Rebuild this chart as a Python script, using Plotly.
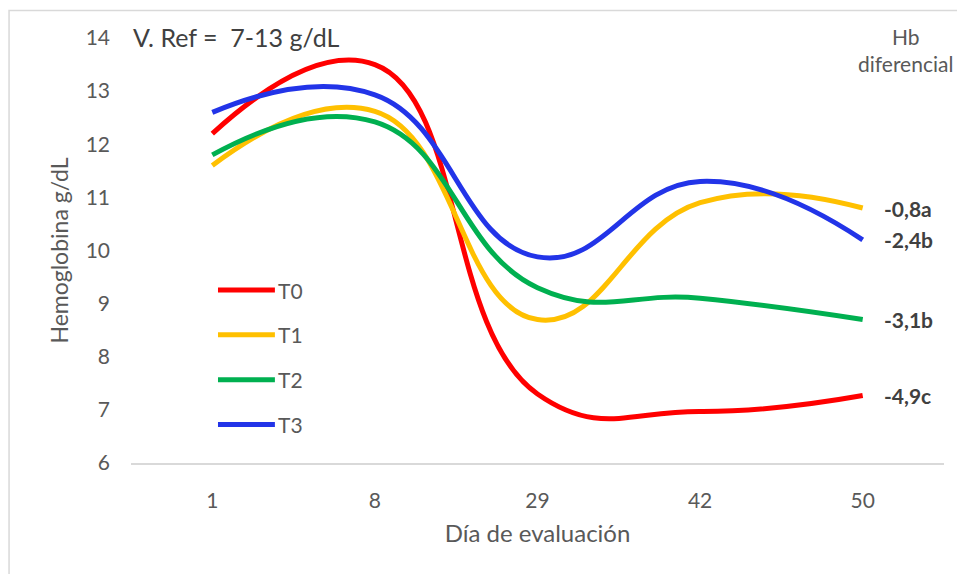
import plotly.graph_objects as go

days = ["1", "8", "29", "42", "50"]
series_names = ["T0", "T1", "T2", "T3"]
t0 = [12.2, 13.5, 7.3, 6.97, 7.27]
t1 = [11.6, 12.62, 8.7, 10.9, 10.8]
t2 = [11.8, 12.42, 9.3, 9.1, 8.7]
t3 = [12.6, 12.93, 9.88, 11.3, 10.2]
values = [t0, t1, t2, t3]
colors = ["#FF0000", "#FFC000", "#00B050", "#2234E8"]
diff_labels = ["-4,9c", "-0,8a", "-3,1b", "-2,4b"]

FONT = "Lato, 'Open Sans', sans-serif"
GRAY = "#595959"
DARK = "#404040"

fig = go.Figure()
for name, vals, col in zip(series_names, values, colors):
    fig.add_trace(go.Scatter(
        x=days, y=vals, name=name, mode="lines",
        line=dict(color=col, width=5, shape="spline", smoothing=1.3),
        showlegend=False, hoverinfo="x+y+name",
    ))

# end-of-line labels
last_idx = len(days) - 1
for vals, lab in zip(values, diff_labels):
    fig.add_annotation(x=last_idx, y=vals[-1], text="<b>" + lab + "</b>",
                       showarrow=False, xanchor="left", xshift=19,
                       font=dict(size=21, color=DARK, family=FONT))

# manual legend (long line samples like the original)
leg_x0, leg_x1 = 0.107, 0.177
leg_top, leg_step = 0.407, 0.1055
for i, (name, col) in enumerate(zip(series_names, colors)):
    yy = leg_top - i * leg_step
    fig.add_shape(type="line", xref="paper", yref="paper",
                  x0=leg_x0, x1=leg_x1, y0=yy, y1=yy,
                  line=dict(color=col, width=5))
    fig.add_annotation(xref="paper", yref="paper", x=leg_x1, y=yy,
                       xanchor="left", yanchor="middle", xshift=1,
                       text=name, showarrow=False,
                       font=dict(size=21, color=GRAY, family=FONT))

fig.add_annotation(xref="paper", yref="paper", x=0.0, y=1.0, yanchor="middle",
                   xanchor="left", text="V. Ref =  7-13 g/dL", showarrow=False,
                   yshift=1,
                   font=dict(size=25, color=DARK, family=FONT))
fig.add_annotation(xref="paper", yref="paper", x=0.953, y=1.0, yanchor="middle",
                   xanchor="center", text="Hb<br>diferencial", showarrow=False,
                   yshift=-12,
                   font=dict(size=21, color=GRAY, family=FONT))

fig.add_shape(type="rect", xref="paper", yref="paper",
              x0=-0.15, x1=1.2, y0=-0.5, y1=1.065,
              line=dict(color="#D9D9D9", width=1.5), layer="below")

fig.update_layout(
    width=957, height=574,
    margin=dict(l=131, r=13, t=38, b=111),
    paper_bgcolor="white", plot_bgcolor="white",
    font=dict(family=FONT, color=GRAY, size=20),
    showlegend=False,
    xaxis=dict(type="category", showgrid=False, showline=True,
               linecolor="#D9D9D9", linewidth=1.5, ticks="",
               tickfont=dict(size=21, color=GRAY), ticklabelstandoff=18,
               title=dict(text="Día de evaluación", font=dict(size=24, color=GRAY),
                          standoff=14),
               range=[-0.5, 4.5]),
    yaxis=dict(range=[6, 14], dtick=1, showgrid=False, zeroline=False,
               showline=False, ticks="",
               tickfont=dict(size=21, color=GRAY), ticklabelstandoff=20,
               title=dict(text="Hemoglobina g/dL", font=dict(size=23, color=GRAY),
                          standoff=10)),
)

fig.write_html("out.html")
